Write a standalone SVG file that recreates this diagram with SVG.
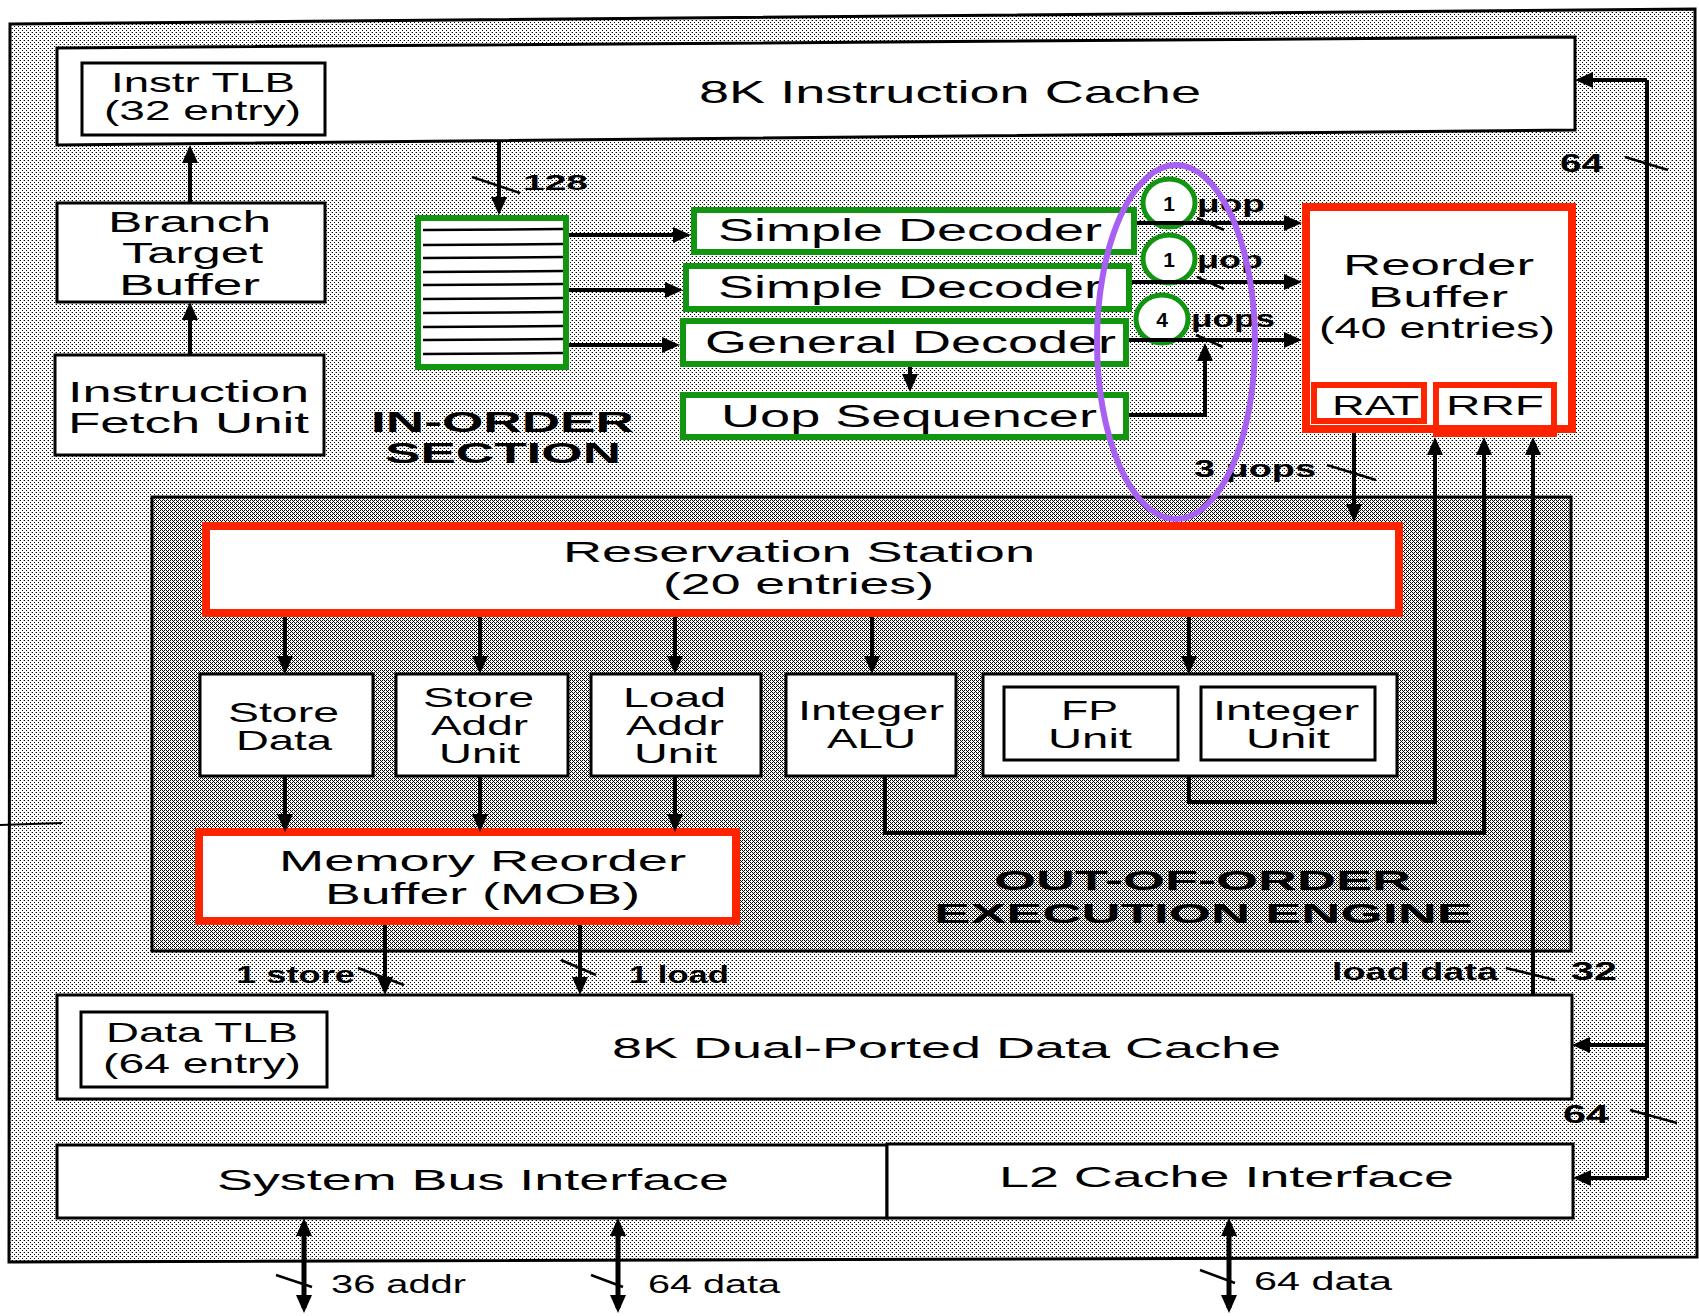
<svg xmlns="http://www.w3.org/2000/svg" width="1699" height="1316" viewBox="0 0 1699 1316">
<style>
text{font-family:"Liberation Sans",Arial,Helvetica,sans-serif;fill:#000}
.b{font-weight:bold}
.bx{fill:#fff;stroke:#000;stroke-width:3}
.gr{fill:#fff;stroke:#129612;stroke-width:6}
.gc{fill:#fff;stroke:#129612;stroke-width:5}
.rd{fill:#fff;stroke:#ff2400;stroke-width:8}
.rs{fill:none;stroke:#ff2400;stroke-width:6}
.ln{fill:none;stroke:#000;stroke-width:4}
.ar{fill:none;stroke:#000;stroke-width:4;marker-end:url(#ah)}
.ab{fill:none;stroke:#000;stroke-width:5;marker-start:url(#ah);marker-end:url(#ah)}
.tk{fill:none;stroke:#000;stroke-width:2.5}
.ql{stroke:#000;stroke-width:2.5}
</style>
<defs>
<pattern id="stL" width="4" height="4" patternUnits="userSpaceOnUse">
<rect width="4" height="4" fill="#fff"/>
<rect x="0" y="0" width="1" height="1" fill="#000"/>
<rect x="2" y="2" width="1" height="1" fill="#000"/>
<rect x="3" y="0" width="1" height="1" fill="#000" fill-opacity="0.35"/>
</pattern>
<pattern id="stD" width="4" height="4" patternUnits="userSpaceOnUse">
<rect width="4" height="4" fill="#fff"/>
<rect x="0" y="0" width="1" height="1" fill="#000"/>
<rect x="2" y="0" width="1" height="1" fill="#000"/>
<rect x="1" y="1" width="1" height="1" fill="#000"/>
<rect x="0" y="2" width="1" height="1" fill="#000"/>
<rect x="2" y="2" width="1" height="1" fill="#000"/>
<rect x="3" y="3" width="1" height="1" fill="#000"/>
</pattern>
<marker id="ah" viewBox="0 0 18 16" refX="13" refY="8" markerWidth="18" markerHeight="16" markerUnits="userSpaceOnUse" orient="auto-start-reverse">
<path d="M0,0 L18,8 L0,16 z" fill="#000"/>
</marker>
</defs>

<g id="chip">
<polygon points="10,24 1695,9 1697,1257 9,1262" fill="url(#stL)" stroke="#000" stroke-width="3"/>
<line x1="0" y1="825" x2="62" y2="823" stroke="#000" stroke-width="2"/>
</g>

<g id="ooo-engine">
<rect x="152" y="497" width="1419" height="454" fill="url(#stD)" stroke="#000" stroke-width="3"/>
<text class="b" x="994" y="890" font-size="28" textLength="417" lengthAdjust="spacingAndGlyphs">OUT-OF-ORDER</text>
<text class="b" x="934" y="923" font-size="28" textLength="539" lengthAdjust="spacingAndGlyphs">EXECUTION ENGINE</text>
</g>

<g id="instr-cache">
<polygon points="57,48 1575,37 1575,130 57,145" class="bx"/>
<text x="699" y="103" font-size="32" textLength="502" lengthAdjust="spacingAndGlyphs">8K Instruction Cache</text>
</g>
<g id="instr-tlb">
<rect x="82" y="63" width="243" height="72" class="bx"/>
<text x="111" y="92" font-size="28" textLength="184" lengthAdjust="spacingAndGlyphs">Instr TLB</text>
<text x="104" y="120" font-size="28" textLength="197" lengthAdjust="spacingAndGlyphs">(32 entry)</text>
</g>
<g id="btb">
<rect x="57" y="203" width="268" height="99" class="bx"/>
<text x="108" y="232" font-size="30" textLength="163" lengthAdjust="spacingAndGlyphs">Branch</text>
<text x="122" y="263" font-size="30" textLength="141" lengthAdjust="spacingAndGlyphs">Target</text>
<text x="119" y="295" font-size="30" textLength="141" lengthAdjust="spacingAndGlyphs">Buffer</text>
</g>
<g id="ifu">
<rect x="55" y="355" width="269" height="100" class="bx"/>
<text x="68" y="402" font-size="30" textLength="241" lengthAdjust="spacingAndGlyphs">Instruction</text>
<text x="68" y="433" font-size="30" textLength="241" lengthAdjust="spacingAndGlyphs">Fetch Unit</text>
</g>
<g id="in-order-label">
<text class="b" x="371" y="432" font-size="29" textLength="263" lengthAdjust="spacingAndGlyphs">IN-ORDER</text>
<text class="b" x="385" y="463" font-size="29" textLength="236" lengthAdjust="spacingAndGlyphs">SECTION</text>
</g>
<g id="instr-queue">
<rect x="418" y="218" width="148" height="149" class="gr"/>
<line class="ql" x1="423" y1="230" x2="563" y2="229"/>
<line class="ql" x1="423" y1="245" x2="563" y2="244"/>
<line class="ql" x1="423" y1="258" x2="563" y2="257"/>
<line class="ql" x1="423" y1="272" x2="563" y2="271"/>
<line class="ql" x1="423" y1="285" x2="563" y2="284"/>
<line class="ql" x1="423" y1="299" x2="563" y2="298"/>
<line class="ql" x1="423" y1="313" x2="563" y2="312"/>
<line class="ql" x1="423" y1="327" x2="563" y2="326"/>
<line class="ql" x1="423" y1="340" x2="563" y2="339"/>
<line class="ql" x1="423" y1="354" x2="563" y2="353"/>
</g>
<g id="simple-decoder-1">
<rect x="694" y="210" width="440" height="42" class="gr"/>
<text x="718" y="241" font-size="31" textLength="384" lengthAdjust="spacingAndGlyphs">Simple Decoder</text>
</g>
<g id="simple-decoder-2">
<rect x="686" y="266" width="443" height="43" class="gr"/>
<text x="718" y="298" font-size="31" textLength="384" lengthAdjust="spacingAndGlyphs">Simple Decoder</text>
</g>
<g id="general-decoder">
<rect x="683" y="321" width="443" height="43" class="gr"/>
<text x="705" y="353" font-size="31" textLength="411" lengthAdjust="spacingAndGlyphs">General Decoder</text>
</g>
<g id="uop-sequencer">
<rect x="683" y="395" width="443" height="42" class="gr"/>
<text x="721" y="427" font-size="31" textLength="376" lengthAdjust="spacingAndGlyphs">Uop Sequencer</text>
</g>
<g id="uop-counts">
<ellipse cx="1169" cy="203" rx="26" ry="24" class="gc"/>
<text class="b" x="1169" y="211" font-size="21" text-anchor="middle">1</text>
<ellipse cx="1169" cy="259" rx="26" ry="24" class="gc"/>
<text class="b" x="1169" y="267" font-size="21" text-anchor="middle">1</text>
<ellipse cx="1162" cy="319" rx="26" ry="24" class="gc"/>
<text class="b" x="1162" y="327" font-size="21" text-anchor="middle">4</text>
<text class="b" x="1197" y="212" font-size="24" textLength="68" lengthAdjust="spacingAndGlyphs">μop</text>
<text class="b" x="1197" y="268" font-size="24" textLength="66" lengthAdjust="spacingAndGlyphs">μop</text>
<text class="b" x="1191" y="327" font-size="24" textLength="84" lengthAdjust="spacingAndGlyphs">μops</text>
</g>
<g id="rob">
<rect x="1306" y="207" width="266" height="222" class="rd"/>
<text x="1343" y="275" font-size="30" textLength="191" lengthAdjust="spacingAndGlyphs">Reorder</text>
<text x="1368" y="307" font-size="30" textLength="140" lengthAdjust="spacingAndGlyphs">Buffer</text>
<text x="1319" y="338" font-size="30" textLength="236" lengthAdjust="spacingAndGlyphs">(40 entries)</text>
</g>
<g id="rat">
<rect x="1314" y="385" width="110" height="36" class="rs" fill="#fff"/>
<text x="1332" y="415" font-size="28" textLength="87" lengthAdjust="spacingAndGlyphs">RAT</text>
</g>
<g id="rrf">
<rect x="1436" y="385" width="118" height="49" class="rs"/>
<text x="1446" y="415" font-size="28" textLength="98" lengthAdjust="spacingAndGlyphs">RRF</text>
</g>
<g id="reservation-station">
<rect x="206" y="526" width="1193" height="87" class="rd"/>
<text x="563" y="562" font-size="29" textLength="472" lengthAdjust="spacingAndGlyphs">Reservation Station</text>
<text x="663" y="594" font-size="29" textLength="271" lengthAdjust="spacingAndGlyphs">(20 entries)</text>
</g>
<g id="store-data">
<rect x="200" y="674" width="173" height="102" class="bx"/>
<text x="228" y="722" font-size="28" textLength="111" lengthAdjust="spacingAndGlyphs">Store</text>
<text x="236" y="750" font-size="28" textLength="96" lengthAdjust="spacingAndGlyphs">Data</text>
</g>
<g id="store-addr-unit">
<rect x="396" y="674" width="172" height="102" class="bx"/>
<text x="423" y="707" font-size="28" textLength="111" lengthAdjust="spacingAndGlyphs">Store</text>
<text x="431" y="735" font-size="28" textLength="97" lengthAdjust="spacingAndGlyphs">Addr</text>
<text x="439" y="763" font-size="28" textLength="81" lengthAdjust="spacingAndGlyphs">Unit</text>
</g>
<g id="load-addr-unit">
<rect x="591" y="674" width="170" height="102" class="bx"/>
<text x="623" y="707" font-size="28" textLength="103" lengthAdjust="spacingAndGlyphs">Load</text>
<text x="626" y="735" font-size="28" textLength="98" lengthAdjust="spacingAndGlyphs">Addr</text>
<text x="634" y="763" font-size="28" textLength="83" lengthAdjust="spacingAndGlyphs">Unit</text>
</g>
<g id="integer-alu">
<rect x="786" y="674" width="170" height="102" class="bx"/>
<text x="798" y="720" font-size="28" textLength="146" lengthAdjust="spacingAndGlyphs">Integer</text>
<text x="827" y="748" font-size="28" textLength="89" lengthAdjust="spacingAndGlyphs">ALU</text>
</g>
<g id="fp-int-group">
<rect x="983" y="674" width="414" height="102" class="bx"/>
</g>
<g id="fp-unit">
<rect x="1004" y="687" width="174" height="73" class="bx"/>
<text x="1061" y="720" font-size="28" textLength="57" lengthAdjust="spacingAndGlyphs">FP</text>
<text x="1048" y="748" font-size="28" textLength="84" lengthAdjust="spacingAndGlyphs">Unit</text>
</g>
<g id="integer-unit">
<rect x="1201" y="687" width="174" height="73" class="bx"/>
<text x="1213" y="720" font-size="28" textLength="146" lengthAdjust="spacingAndGlyphs">Integer</text>
<text x="1246" y="748" font-size="28" textLength="84" lengthAdjust="spacingAndGlyphs">Unit</text>
</g>
<g id="mob">
<rect x="199" y="832" width="537" height="89" class="rd"/>
<text x="279" y="871" font-size="29" textLength="407" lengthAdjust="spacingAndGlyphs">Memory Reorder</text>
<text x="325" y="904" font-size="29" textLength="315" lengthAdjust="spacingAndGlyphs">Buffer (MOB)</text>
</g>
<g id="data-cache">
<rect x="57" y="995" width="1515" height="104" class="bx"/>
<text x="612" y="1058" font-size="30" textLength="669" lengthAdjust="spacingAndGlyphs">8K Dual-Ported Data Cache</text>
</g>
<g id="data-tlb">
<rect x="81" y="1012" width="246" height="75" class="bx"/>
<text x="106" y="1042" font-size="28" textLength="192" lengthAdjust="spacingAndGlyphs">Data TLB</text>
<text x="103" y="1073" font-size="28" textLength="198" lengthAdjust="spacingAndGlyphs">(64 entry)</text>
</g>
<g id="system-bus-interface">
<rect x="57" y="1145" width="830" height="73" class="bx"/>
<text x="217" y="1190" font-size="30" textLength="512" lengthAdjust="spacingAndGlyphs">System Bus Interface</text>
</g>
<g id="l2-cache-interface">
<rect x="887" y="1144" width="686" height="74" class="bx"/>
<text x="999" y="1187" font-size="30" textLength="455" lengthAdjust="spacingAndGlyphs">L2 Cache Interface</text>
</g>

<g id="connectors">
<path class="ar" d="M190,355 V307"/>
<path class="ar" d="M190,203 V150"/>
<path class="ar" d="M499,142 V210"/>
<path class="ar" d="M569,235 H686"/>
<path class="ar" d="M569,290 H678"/>
<path class="ar" d="M569,345 H675"/>
<path class="ar" d="M910,367 V387"/>
<path class="ar" d="M1137,223 H1297"/>
<path class="ar" d="M1132,282 H1297"/>
<path class="ar" d="M1129,340 H1297"/>
<path class="ar" d="M1129,415 H1205 V348"/>
<path class="ar" d="M1354,433 V517"/>
<path class="ar" d="M285,617 V669"/>
<path class="ar" d="M480,617 V669"/>
<path class="ar" d="M675,617 V669"/>
<path class="ar" d="M872,617 V669"/>
<path class="ar" d="M1189,617 V669"/>
<path class="ar" d="M285,776 V827"/>
<path class="ar" d="M480,776 V827"/>
<path class="ar" d="M675,776 V827"/>
<path class="ar" d="M385,925 V990"/>
<path class="ar" d="M580,925 V990"/>
<path class="ar" d="M1189,776 V802 H1435 V442"/>
<path class="ar" d="M885,776 V833 H1484 V442"/>
<path class="ar" d="M1533,995 V442"/>
<path class="ln" d="M1647,80 V1178"/>
<path class="ar" d="M1647,80 H1580"/>
<path class="ar" d="M1647,1045 H1577"/>
<path class="ar" d="M1647,1178 H1578"/>
<path class="ab" d="M304,1223 V1308"/>
<path class="ab" d="M618,1223 V1308"/>
<path class="ab" d="M1229,1223 V1308"/>
<line class="tk" x1="472" y1="177" x2="520" y2="193"/>
<line class="tk" x1="1197" y1="218" x2="1224" y2="230"/>
<line class="tk" x1="1197" y1="277" x2="1224" y2="289"/>
<line class="tk" x1="1196" y1="335" x2="1223" y2="347"/>
<line class="tk" x1="1327" y1="465" x2="1376" y2="480"/>
<line class="tk" x1="1625" y1="157" x2="1668" y2="170"/>
<line class="tk" x1="358" y1="968" x2="404" y2="985"/>
<line class="tk" x1="561" y1="960" x2="596" y2="975"/>
<line class="tk" x1="1506" y1="968" x2="1555" y2="980"/>
<line class="tk" x1="1630" y1="1110" x2="1677" y2="1123"/>
<line class="tk" x1="276" y1="1275" x2="312" y2="1287"/>
<line class="tk" x1="591" y1="1275" x2="623" y2="1287"/>
<line class="tk" x1="1200" y1="1270" x2="1235" y2="1283"/>
<text class="b" x="523" y="190" font-size="22" textLength="65" lengthAdjust="spacingAndGlyphs">128</text>
<text class="b" x="1194" y="477" font-size="24" textLength="122" lengthAdjust="spacingAndGlyphs">3 μops</text>
<text class="b" x="1560" y="172" font-size="25" textLength="43" lengthAdjust="spacingAndGlyphs">64</text>
<text class="b" x="236" y="983" font-size="24" textLength="119" lengthAdjust="spacingAndGlyphs">1 store</text>
<text class="b" x="629" y="983" font-size="24" textLength="100" lengthAdjust="spacingAndGlyphs">1 load</text>
<text class="b" x="1332" y="980" font-size="24" textLength="166" lengthAdjust="spacingAndGlyphs">load data</text>
<text class="b" x="1571" y="980" font-size="25" textLength="46" lengthAdjust="spacingAndGlyphs">32</text>
<text class="b" x="1563" y="1123" font-size="25" textLength="46" lengthAdjust="spacingAndGlyphs">64</text>
<text x="331" y="1293" font-size="25" textLength="135" lengthAdjust="spacingAndGlyphs">36 addr</text>
<text x="648" y="1293" font-size="25" textLength="132" lengthAdjust="spacingAndGlyphs">64 data</text>
<text x="1254" y="1290" font-size="25" textLength="138" lengthAdjust="spacingAndGlyphs">64 data</text>
</g>

<g id="decode-highlight">
<ellipse cx="1176" cy="342" rx="79" ry="177" fill="none" stroke="#a860f2" stroke-width="6"/>
</g>
</svg>
